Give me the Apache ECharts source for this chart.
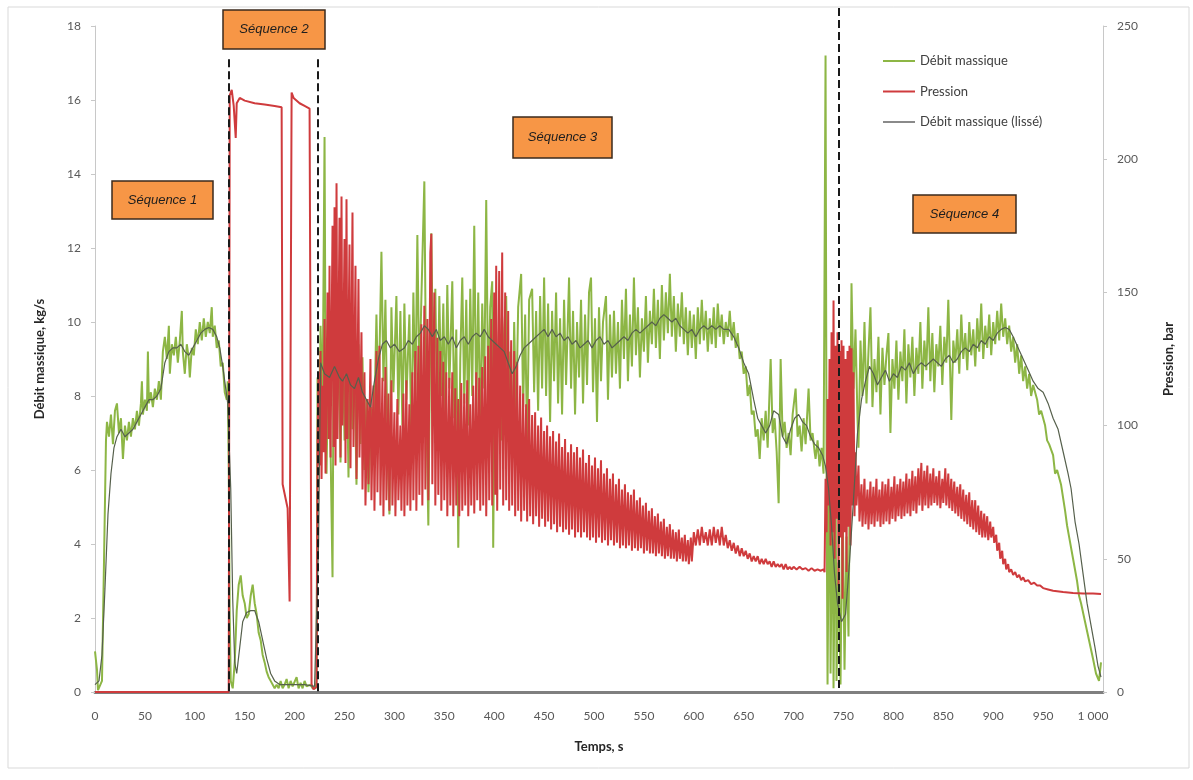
<!DOCTYPE html>
<html><head><meta charset="utf-8">
<script src="https://cdn.jsdelivr.net/npm/echarts@6/dist/echarts.min.js"></script>
<style>html,body{margin:0;padding:0;background:#fff}#c{width:1193px;height:780px}</style>
</head><body><div id="c"></div>
<script>
// ---------- DATA (time s, value) ----------
const xTicks = [0, 1000, 50];           // min, last labelled tick, step
const seqBoundaries = [134, 223, 745];   // dashed separators (s)
const seqNames = ['Séquence 1', 'Séquence 2', 'Séquence 3', 'Séquence 4'];
const seriesNames = ['Débit massique', 'Pression', 'Débit massique (lissé)'];

// Débit massique (kg/s)
const flowSeq1 = [[0,1.1],[2,0.6],[3,0.05],[5,0],[7,0.3],[9,3.5],[11,6.8],[12,7.3],[14,6.9],[16,7.5],[18,6.7],[20,7.6],[22,7.8],[24,7.0],[26,7.4],[28,6.3],[30,7.2],[32,6.8],[34,7.3],[36,6.9],[38,7.4],[40,7.1],[42,7.6],[44,7.2],[46,7.8],[47,8.4],[48,7.5],[50,7.9],[52,7.6],[53,9.2],[54,7.8],[56,8.1],[58,7.7],[60,8.2],[62,7.9],[64,8.4],[66,7.9],[68,9.2],[70,9.6],[72,9.0],[74,9.9],[75,8.6],[77,9.4],[79,9.1],[81,9.6],[83,8.9],[85,9.5],[87,10.3],[88,9.2],[90,8.6],[92,9.4],[94,9.0],[95,8.5],[97,9.3],[99,9.1],[101,9.8],[103,9.4],[105,10.0],[107,9.5],[109,10.1],[111,9.6],[113,10.0],[115,9.7],[117,10.4],[118,9.6],[120,9.9],[122,9.3],[124,9.5],[126,8.8],[128,8.9],[130,8.1],[132,7.9],[133,8.4]];
const flowSeq2 = [[134,6.0],[135,2.0],[136,0.3],[138,0.1],[140,0.8],[142,2.2],[144,2.9],[146,3.15],[148,2.6],[150,2.4],[152,2.0],[154,2.1],[156,2.6],[158,2.9],[160,2.4],[162,2.1],[164,1.6],[166,1.4],[168,1.0],[170,0.8],[172,0.55],[174,0.4],[176,0.3],[178,0.25],[180,0.1],[182,0.2],[184,0.1],[186,0.3],[188,0.1],[190,0.2],[192,0.35],[194,0.1],[196,0.3],[198,0.15],[200,0.2],[202,0.4],[204,0.1],[206,0.25],[208,0.1],[210,0.3],[212,0.15],[214,0.1],[216,0.2],[218,0.1],[220,0.15],[221,0.1]];
const flowSeq3 = [[222,0.3],[223,8.5],[224,6.4],[226,9.9],[228,7.6],[230,15.0],[231,8.8],[232,5.9],[234,9.5],[236,6.6],[238,3.1],[239,8.8],[240,10.2],[242,6.9],[244,9.6],[246,6.2],[248,10.0],[250,6.8],[252,9.3],[254,5.8],[256,9.8],[258,7.1],[260,9.0],[262,5.6],[264,9.4],[266,6.7],[268,9.05],[270,6.0],[272,7.9],[274,5.4],[277,7.7],[279,6.2],[282,10.2],[284,7.6],[287,11.9],[289,8.4],[291,10.6],[293,6.9],[295,4.8],[297,10.4],[299,8.1],[302,10.7],[304,7.5],[306,10.3],[308,7.2],[310,10.5],[312,7.9],[315,10.2],[317,6.6],[319,10.8],[321,7.9],[323,12.35],[325,8.3],[327,10.6],[330,13.8],[332,7.6],[334,4.5],[337,12.4],[339,8.2],[341,10.9],[343,7.1],[345,10.7],[347,8.0],[349,10.5],[351,7.5],[353,11.0],[355,8.2],[358,11.1],[360,7.4],[362,9.8],[364,3.9],[366,9.0],[368,11.2],[370,7.8],[372,10.6],[374,7.2],[376,10.9],[378,8.0],[380,12.6],[382,7.6],[384,10.8],[386,7.0],[388,10.5],[390,8.2],[392,13.3],[394,7.8],[396,10.4],[398,11.1],[399,3.9],[401,10.3],[403,7.6],[405,10.1],[407,6.8],[410,9.8],[412,10.7],[414,7.0],[416,9.2],[418,6.2],[420,10.0],[422,7.4],[424,10.4],[427,11.3],[429,7.7],[431,10.2],[433,6.6],[435,10.6],[438,10.9],[440,8.1],[442,10.3],[444,7.6],[446,10.7],[448,8.2],[450,11.2],[452,8.0],[454,10.5],[456,7.3],[458,10.3],[460,8.4],[462,10.8],[464,7.8],[466,10.1],[468,7.5],[470,10.6],[472,8.3],[475,11.2],[477,8.2],[479,10.3],[481,7.5],[483,10.0],[485,8.5],[487,10.6],[489,7.8],[491,10.2],[493,8.3],[495,10.8],[497,11.2],[499,8.1],[501,10.1],[503,7.3],[505,10.4],[507,8.4],[509,10.0],[512,10.7],[514,7.9],[516,10.2],[518,8.5],[520,10.3],[522,8.6],[524,10.0],[526,8.2],[528,10.6],[530,9.0],[532,10.9],[534,8.4],[536,10.2],[538,8.8],[540,11.2],[542,9.1],[544,10.4],[546,8.5],[548,10.1],[550,9.2],[552,10.7],[554,8.9],[556,10.3],[558,9.4],[560,10.9],[562,9.3],[564,10.6],[566,9.0],[568,11.0],[570,9.5],[572,10.8],[574,9.7],[576,11.3],[578,9.6],[580,10.7],[582,9.2],[584,10.5],[586,9.6],[588,10.8],[590,9.4],[592,10.4],[594,9.1],[596,10.3],[598,9.3],[600,10.2],[602,9.0],[604,10.4],[606,9.4],[608,10.6],[610,9.5],[612,10.3],[614,9.2],[616,10.1],[618,9.4],[620,10.4],[622,9.3],[624,10.5],[626,9.6],[628,10.2],[630,9.4],[632,10.0],[634,9.6],[636,10.3],[638,9.5],[640,10.0],[642,9.3],[644,9.7],[646,9.0],[648,9.2],[650,8.6],[652,8.8],[654,8.0],[656,8.3],[658,7.5],[660,7.6],[662,6.9],[664,7.1],[666,6.3],[668,7.4],[670,6.8],[672,7.6],[674,6.6],[677,9.0],[679,7.0],[681,7.4],[683,6.5],[685,5.1],[687,9.0],[689,6.9],[691,7.3],[693,6.6],[695,7.0],[697,6.4],[699,7.5],[702,8.2],[704,6.9],[706,7.2],[708,6.5],[710,7.4],[712,6.7],[715,8.2],[717,6.8],[719,7.0],[721,6.5],[722,6.3],[724,6.8],[726,6.1],[728,6.6],[730,5.9],[732,17.2],[733,6.0],[734,0.2],[736,7.6],[737,0.5],[739,5.8],[740,0.1],[742,6.2],[743,0.3],[745,3.5],[747,0.2],[749,5.5],[751,0.6],[753,4.2],[755,1.5],[757,8.0]];
const flowSeq4 = [[758,11.05],[760,8.2],[762,9.8],[764,7.4],[765,6.6],[767,9.5],[769,8.0],[771,10.0],[773,7.8],[775,9.2],[777,10.4],[779,7.7],[781,9.0],[783,8.1],[785,9.6],[787,7.5],[789,9.3],[791,8.3],[793,9.1],[795,9.7],[797,7.0],[799,9.0],[801,8.2],[803,9.5],[805,7.9],[807,9.2],[809,8.4],[811,9.8],[813,7.8],[815,9.4],[817,8.5],[819,9.6],[821,8.0],[823,9.3],[825,8.6],[827,10.0],[829,8.2],[831,9.5],[833,8.7],[835,10.4],[837,8.4],[839,9.7],[841,8.1],[843,9.4],[845,8.8],[847,9.9],[849,8.3],[851,9.6],[853,8.9],[855,10.6],[857,8.5],[858,7.35],[860,9.5],[862,8.9],[864,9.8],[866,8.6],[868,10.2],[870,9.0],[872,9.7],[874,8.7],[876,10.0],[878,9.1],[880,9.8],[882,8.8],[884,10.1],[886,9.2],[888,10.5],[890,9.0],[892,9.9],[894,9.3],[896,10.2],[898,9.1],[900,10.0],[902,9.4],[904,10.3],[906,9.5],[908,10.5],[910,9.6],[912,10.1],[914,9.4],[916,9.9],[918,9.2],[920,9.6],[922,8.9],[924,9.4],[926,8.6],[928,9.1],[930,8.4],[932,8.8],[934,8.2],[936,8.6],[938,8.0],[940,8.3],[944,7.9],[946,7.5],[948,7.6],[952,7.2],[954,6.8],[956,6.7],[960,6.4],[962,5.9],[964,6.0],[968,5.6],[972,4.9],[974,4.5],[976,4.2],[980,3.6],[984,3.0],[986,2.6],[988,2.4],[992,1.9],[996,1.4],[1000,0.9],[1003,0.5],[1006,0.3],[1008,0.8]];

// Pression (bar)
const presSeq12 = [[0,0],[134,0],[135,224],[137,226],[139,220],[141,208],[142,221],[145,223],[150,222],[160,221],[170,220.5],[180,220],[187,219.5],[188,78],[193,69],[195,34],[197,225],[199,223],[205,221],[210,220],[215,219],[216,120],[217,3],[219,1],[221,1]];
const presSeq3 = [[222,2],[223,95],[224,120],[225,85],[226,128],[227,80],[228,115],[229,90],[230,140],[231,82],[233,150],[234,95],[235,160],[236,88],[238,175],[239,92],[240,182],[241,85],[242,191],[243,95],[245,178],[246,88],[247,186],[248,100],[250,170],[251,86],[252,185],[253,95],[255,168],[256,84],[258,180],[259,92],[261,160],[262,80],[264,155],[265,88],[267,135],[268,76],[270,120],[271,70],[273,110],[274,78],[276,125],[277,72],[279,115],[280,68],[282,128],[283,75],[285,130],[286,70],[288,118],[289,66],[291,122],[292,72],[294,112],[295,68],[297,117],[298,70],[300,105],[301,66],[303,110],[304,72],[306,100],[307,68],[309,112],[310,66],[312,117],[313,70],[315,108],[316,68],[318,120],[319,72],[321,128],[322,68],[324,130],[325,74],[327,138],[328,70],[330,145],[331,76],[333,140],[334,72],[336,165],[337,172],[338,78],[340,150],[341,70],[343,133],[344,74],[346,128],[347,68],[349,124],[350,72],[352,120],[353,66],[355,118],[356,70],[358,120],[359,66],[361,114],[362,70],[364,110],[365,66],[367,116],[368,68],[370,112],[371,70],[373,117],[374,66],[376,108],[377,70],[379,115],[380,67],[382,120],[383,72],[385,118],[386,68],[388,122],[389,70],[391,126],[392,66],[394,130],[395,72],[397,140],[398,70],[400,150],[401,74],[402,160],[403,68],[405,158],[406,76],[408,165],[409,70],[411,150],[412,72],[414,143],[415,68],[417,132],[418,70],[420,128],[421,66],[423,124],[424,68],[426,115],[427,64],[429,112],[430,68],[432,108],[433,64],[435,110],[436,66],[438,104],[439,63],[441,105],[442,66],[444,100],[445,62],[447,103],[448,65],[450,98],[451,62],[453,100],[454,64],[456,96],[457,61],[459,98],[460,63],[462,94],[463,60],[465,97],[466,62],[468,92],[469,60],[471,95],[472,61],[474,90],[475,59],[477,93],[478,61],[480,90],[481,58],[483,92],[484,60],[486,88],[487,58],[489,91],[490,60],[492,86],[493,58],[495,89],[496,57],[498,85],[499,58],[501,88],[502,56],[504,84],[505,58],[507,87],[508,56],[510,82],[511,57],[513,84],[514,55],[516,80],[517,57],[519,82],[520,55],[522,78],[523,56],[525,80],[526,54],[528,76],[529,55],[531,78],[532,54],[534,75],[535,55],[537,74],[538,53],[540,76],[541,54],[543,72],[544,53],[546,73],[547,54],[549,70],[550,52],[552,71],[553,53],[555,68],[556,52],[558,69],[559,52],[561,66],[562,51],[564,67],[565,52],[567,64],[568,51],[570,65],[571,50],[573,62],[574,51],[576,63],[577,50],[579,61],[580,50],[582,60],[583,49],[585,61],[586,50],[588,58],[589,49],[591,59],[592,49],[594,57],[595,48],[597,58],[598,49],[600,60],[602,55],[604,61],[606,55],[608,62],[610,56],[612,60],[614,55],[616,61],[618,55],[620,62],[622,56],[624,61],[626,55],[628,62],[630,55],[632,59],[634,54],[636,57],[638,53],[640,56],[642,52],[644,55],[646,51],[648,54],[650,51],[652,53],[654,50],[656,52],[658,49],[660,51],[662,49],[664,51],[666,48],[668,50],[670,48],[672,50],[674,48],[676,49],[678,47],[680,49],[682,47],[684,48],[686,47],[688,48],[690,46],[692,48],[694,46],[696,47],[698,46],[700,47],[703,46],[706,47],[709,46],[712,46.5],[715,45.5],[718,46.5],[721,45.5],[724,46],[727,45.5],[730,46],[731,45],[732,80],[733,60],[734,110],[735,70],[736,125],[737,55],[738,135],[739,60],[740,147],[741,50],[742,130],[743,65],[744,135],[745,40],[746,128],[747,58],[748,132],[749,35],[750,130],[751,60],[752,125],[753,45],[754,128],[755,62],[756,130],[757,55],[758,129],[759,70],[760,120],[761,66],[762,90],[763,70]];
const presSeq4 = [[765,85],[766,64],[768,78],[769,62],[771,80],[772,63],[774,76],[775,61],[777,79],[778,63],[780,77],[781,62],[783,80],[784,64],[786,76],[787,62],[789,79],[790,63],[792,78],[793,64],[795,80],[796,63],[798,77],[799,65],[801,81],[802,64],[804,78],[805,66],[807,80],[808,65],[810,79],[811,66],[813,82],[814,67],[816,80],[817,66],[819,83],[820,68],[822,81],[823,67],[825,84],[826,70],[828,86],[829,68],[831,83],[832,70],[834,85],[835,69],[837,82],[838,70],[840,84],[841,71],[843,81],[844,70],[846,83],[847,69],[849,80],[850,71],[852,84],[853,70],[855,82],[856,69],[858,80],[859,68],[861,79],[862,67],[864,77],[865,66],[867,78],[868,65],[870,76],[871,64],[873,74],[874,63],[876,75],[877,62],[879,72],[880,61],[882,72],[883,60],[885,70],[886,59],[888,68],[889,58],[891,67],[892,58],[894,66],[895,57],[897,64],[898,58],[900,62],[901,56],[903,59],[904,53],[906,56],[907,50],[909,53],[910,48],[912,50],[913,46],[915,48],[916,45],[918,46],[920,44],[922,45],[924,43],[926,44],[928,42],[930,43],[932,41.5],[935,42],[938,40.5],[941,41],[944,40],[947,40],[950,39],[955,38.5],[960,38],[970,37.5],[980,37.2],[990,37],[1000,37],[1008,36.8]];

// Débit massique lissé (kg/s)
const smoothSeq12 = [[0,0.2],[4,0.3],[7,1.0],[10,2.8],[13,4.8],[16,5.9],[19,6.6],[22,6.9],[26,7.1],[30,6.9],[34,7.0],[38,7.1],[42,7.3],[46,7.5],[50,7.7],[54,7.9],[58,7.9],[62,8.0],[66,8.2],[70,8.9],[74,9.2],[78,9.3],[82,9.3],[86,9.4],[90,9.2],[94,9.1],[98,9.3],[102,9.5],[106,9.7],[110,9.8],[114,9.85],[118,9.8],[122,9.6],[125,9.3],[128,8.8],[131,8.2],[133,7.8],[136,5.5],[138,2.5],[140,0.8],[142,0.5],[145,1.2],[148,1.9],[152,2.15],[156,2.2],[160,2.2],[164,1.9],[168,1.4],[172,0.9],[176,0.5],[180,0.3],[185,0.2],[190,0.2],[200,0.2],[210,0.2],[220,0.15]];
const smoothSeq34 = [[222,0.2],[224,4],[226,8.9],[230,8.6],[235,8.5],[240,8.8],[245,8.5],[248,8.4],[252,8.6],[256,8.3],[260,8.2],[264,8.5],[268,8.1],[272,7.9],[276,7.7],[280,8.4],[284,9.0],[288,9.4],[292,9.5],[296,9.3],[300,9.4],[305,9.2],[310,9.3],[314,9.5],[318,9.4],[322,9.6],[326,9.7],[330,9.9],[334,9.8],[338,9.6],[342,9.8],[346,9.5],[350,9.6],[354,9.4],[358,9.6],[362,9.3],[366,9.5],[370,9.6],[374,9.4],[378,9.6],[382,9.7],[386,9.6],[390,9.8],[394,9.6],[398,9.5],[402,9.4],[406,9.3],[410,9.2],[414,8.9],[418,8.6],[422,8.8],[426,9.1],[430,9.3],[434,9.4],[438,9.5],[442,9.6],[446,9.7],[450,9.8],[454,9.6],[458,9.8],[462,9.6],[466,9.7],[470,9.5],[474,9.6],[478,9.4],[482,9.5],[486,9.3],[490,9.4],[494,9.5],[498,9.3],[502,9.5],[506,9.6],[510,9.4],[514,9.5],[518,9.3],[522,9.4],[526,9.5],[530,9.6],[534,9.5],[538,9.7],[542,9.8],[546,9.7],[550,9.8],[554,9.9],[558,10.0],[562,9.9],[566,10.1],[570,10.2],[574,10.1],[578,10.0],[582,10.1],[586,9.9],[590,9.8],[594,9.7],[598,9.8],[602,9.6],[606,9.8],[610,9.9],[614,9.8],[618,9.9],[622,9.8],[626,9.9],[630,9.8],[635,9.8],[640,9.6],[645,9.3],[650,8.9],[655,8.6],[660,7.9],[664,7.4],[668,7.2],[672,7.0],[676,7.2],[680,7.6],[685,7.5],[689,6.9],[693,6.7],[697,7.1],[701,7.4],[705,7.5],[709,7.3],[713,7.2],[717,6.9],[721,6.7],[725,6.6],[729,6.4],[732,6.1],[735,5.5],[738,4.5],[741,3.2],[744,2.4],[748,1.9],[752,2.1],[756,3.5],[760,5.2],[764,7.0],[768,7.9],[772,8.4],[776,8.8],[780,8.6],[784,8.3],[788,8.5],[792,8.7],[796,8.4],[800,8.6],[804,8.5],[808,8.8],[812,8.7],[816,8.9],[820,8.6],[824,8.8],[828,8.9],[832,8.8],[836,8.9],[840,9.0],[844,8.9],[848,8.8],[852,9.0],[856,9.1],[860,8.9],[864,9.0],[868,9.2],[872,9.3],[876,9.2],[880,9.4],[884,9.3],[888,9.5],[892,9.4],[896,9.6],[900,9.5],[904,9.7],[908,9.8],[912,9.85],[916,9.8],[920,9.6],[925,9.3],[930,9.0],[935,8.7],[940,8.4],[945,8.2],[950,8.1],[955,7.8],[960,7.4],[965,7.1],[970,6.5],[975,5.9],[978,5.5],[982,4.6],[986,4.0],[990,3.2],[994,2.4],[998,1.8],[1002,1.2],[1005,0.7],[1008,0.4]];

const flow = [].concat(flowSeq1, flowSeq2, flowSeq3, flowSeq4);
const pressure = [].concat(presSeq12, presSeq3, presSeq4);
const smooth = [].concat(smoothSeq12, smoothSeq34);

// ---------- CHART ----------
const GREEN = '#8db645', RED = '#cf3b3d', SMOOTH = '#56604c';
const labelFont = 'Lato, "Open Sans", sans-serif';
const fmt = v => String(v).replace(/\B(?=(\d{3})+(?!\d))/g, ' ');

const chart = echarts.init(document.getElementById('c'));
chart.setOption({
  animation: false,
  backgroundColor: '#fff',
  grid: { left: 95, right: 90, top: 26, bottom: 88, containLabel: false },
  legend: {
    orient: 'vertical', left: 883, top: 53, padding: 0,
    itemWidth: 32, itemHeight: 2, itemGap: 14.5, icon: 'rect',
    textStyle: { color: '#404040', fontSize: 13, fontFamily: labelFont, lineHeight: 16 },
    data: seriesNames
  },
  xAxis: {
    type: 'value', min: xTicks[0], max: 1010, interval: xTicks[2],
    name: 'Temps, s', nameLocation: 'middle', nameGap: 48,
    nameTextStyle: { fontWeight: 'bold', fontSize: 13, color: '#262626', fontFamily: labelFont },
    axisLine: { show: true, onZero: false, lineStyle: { color: '#7f7f7f', width: 3 } },
    axisTick: { show: false },
    axisLabel: { color: '#595959', fontSize: 12, fontFamily: labelFont, margin: 18, showMaxLabel: false,
      formatter: v => (v <= xTicks[1] ? fmt(v) : '') },
    splitLine: { show: false }
  },
  yAxis: [
    { type: 'value', min: 0, max: 18, interval: 2, position: 'left',
      name: 'Débit massique, kg/s', nameLocation: 'middle', nameGap: 49,
      nameTextStyle: { fontWeight: 'bold', fontSize: 13, color: '#262626', fontFamily: labelFont },
      axisLine: { show: true, lineStyle: { color: '#c8c8c8', width: 1 } },
      axisTick: { show: true, length: 4, lineStyle: { color: '#c8c8c8' } },
      axisLabel: { color: '#595959', fontSize: 12, fontFamily: labelFont, margin: 14 },
      splitLine: { show: false } },
    { type: 'value', min: 0, max: 250, interval: 50, position: 'right',
      name: 'Pression, bar', nameLocation: 'middle', nameGap: 59,
      nameTextStyle: { fontWeight: 'bold', fontSize: 13, color: '#262626', fontFamily: labelFont },
      axisLine: { show: true, lineStyle: { color: '#c8c8c8', width: 1 } },
      axisTick: { show: true, length: 4, lineStyle: { color: '#c8c8c8' } },
      axisLabel: { color: '#595959', fontSize: 12, fontFamily: labelFont, margin: 14 },
      splitLine: { show: false } }
  ],
  series: [
    { name: seriesNames[0], type: 'line', yAxisIndex: 0, data: flow, showSymbol: false, symbol: 'none',
      color: GREEN, lineStyle: { color: GREEN, width: 2 }, z: 2 },
    { name: seriesNames[1], type: 'line', yAxisIndex: 1, data: pressure, showSymbol: false, symbol: 'none',
      color: RED, lineStyle: { color: RED, width: 2 }, z: 3 },
    { name: seriesNames[2], type: 'line', yAxisIndex: 0, data: smooth, showSymbol: false, symbol: 'none',
      color: '#8a8a8a', lineStyle: { color: SMOOTH, width: 1.2 }, z: 4 }
  ]
});

// ---------- annotations ----------
function px(t) { return chart.convertToPixel({ xAxisIndex: 0 }, t); }
function py(v) { return chart.convertToPixel({ yAxisIndex: 0 }, v); }
const yBottom = py(0);
const dashTops = [py(17.1), py(17.1), 8];
const graphics = [];
graphics.push({ type: 'rect', z: 0, silent: true,
  shape: { x: 8, y: 7, width: 1181, height: 761 },
  style: { fill: 'none', stroke: '#d9d9d9', lineWidth: 1 } });
seqBoundaries.forEach((t, i) => {
  const x = Math.round(px(t));
  graphics.push({ type: 'line', z: 100, silent: true,
    shape: { x1: x, y1: dashTops[i], x2: x, y2: yBottom },
    style: { stroke: '#1a1a1a', lineWidth: 2, lineDash: [8, 4] } });
});
const boxes = [[112, 181, 101, 38], [223, 10, 102, 39], [513, 117, 99, 41], [913, 195, 103, 38]];
boxes.forEach((b, i) => {
  graphics.push({ type: 'rect', z: 101, silent: true,
    shape: { x: b[0], y: b[1], width: b[2], height: b[3] },
    style: { fill: '#f79646', stroke: '#3b2a1c', lineWidth: 1.5 } });
  graphics.push({ type: 'text', z: 102, silent: true,
    style: { x: b[0] + b[2] / 2, y: b[1] + b[3] / 2, text: seqNames[i], align: 'center', verticalAlign: 'middle',
      fontStyle: 'italic', fontSize: 13, fontFamily: '"Liberation Sans", Arial, sans-serif', fill: '#1e1e1e' } });
});
chart.setOption({ graphic: graphics });
</script>
</body></html>
